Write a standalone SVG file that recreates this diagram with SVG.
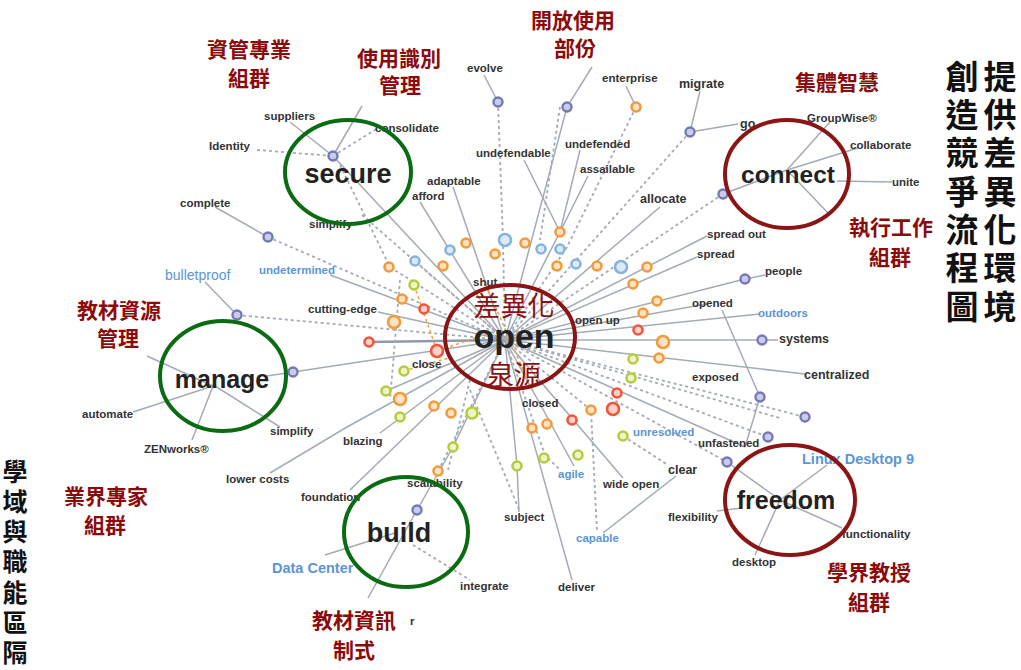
<svg xmlns="http://www.w3.org/2000/svg" width="1021" height="670" viewBox="0 0 1021 670">
<style>
.l{stroke:#a3abb7;stroke-width:1.5;fill:none}
.lt{stroke:#8f99a8;stroke-width:2.6;fill:none}
.d{stroke:#a3abb7;stroke-width:1.8;fill:none;stroke-dasharray:3 3}
.od{stroke:#f3a43c;stroke-width:1.6;fill:none;stroke-dasharray:3 3}
.o{fill:#fde2c4;stroke:#f39a3c;stroke-width:2.6}
.b{fill:#dce9f7;stroke:#86b3e0;stroke-width:2.6}
.g{fill:#eef3c8;stroke:#b5cc3c;stroke-width:2.6}
.r{fill:#fcd2c8;stroke:#f0553c;stroke-width:2.6}
.p{fill:#c9cbe8;stroke:#7479b5;stroke-width:2.4}
.w{font-family:"Liberation Sans",Arial,sans-serif;font-size:11.5px;fill:#333;font-weight:bold}
.wb{font-family:"Liberation Sans",Arial,sans-serif;font-size:11.5px;fill:#5b95d3;font-weight:bold}
.big{font-family:"Liberation Sans",Arial,sans-serif;font-size:26px;fill:#222;font-weight:bold;text-anchor:middle}
.blu{font-family:"Liberation Sans",Arial,sans-serif;font-size:14.5px;fill:#5b95d3;font-weight:bold}
.cn{font-family:"Noto Sans CJK TC","Noto Sans CJK SC",serif;font-size:21px;fill:#8b0a0a;font-weight:bold;text-anchor:middle}
.bk{font-family:"Noto Sans CJK TC","Noto Sans CJK SC",sans-serif;font-weight:bold;fill:#111;text-anchor:middle}
.gc{fill:none;stroke:#0b6b12;stroke-width:4}
.rc{fill:none;stroke:#8b1414;stroke-width:4}
</style>
<rect width="1021" height="670" fill="#fff"/>
<g id="connectors">
<path class="l" d="M505,340 L567,107 L592,67"/>
<path class="l" d="M505,340 L560,232 L580,150"/>
<path class="l" d="M560,232 L588,176"/>
<path class="l" d="M560,232 L524,160"/>
<path class="l" d="M505,340 L453,187"/>
<path class="l" d="M505,340 L420,202"/>
<path class="l" d="M505,340 L660,207"/>
<path class="l" d="M484,75 L498,102"/>
<path class="d" d="M498,102 L503,240 L505,340"/>
<path class="l" d="M626,86 L636,107"/>
<path class="d" d="M636,107 L567,247 L505,340"/>
<path class="l" d="M700,91 L690,132 L738,124"/>
<path class="d" d="M690,132 L505,340"/>
<path class="d" d="M560,107 L540,240"/>
<path class="d" d="M723,194 L505,340"/>
<path class="l" d="M723,194 L787,170"/>
<path class="l" d="M787,170 L830,122"/>
<path class="l" d="M787,170 L858,148"/>
<path class="l" d="M837,181 L892,182"/>
<path class="l" d="M787,170 L828,213"/>
<path class="l" d="M505,340 L707,236"/>
<path class="l" d="M505,340 L697,257"/>
<path class="l" d="M505,340 L745,279 L765,275"/>
<path class="l" d="M505,340 L712,303"/>
<path class="l" d="M505,340 L760,314"/>
<path class="l" d="M505,340 L762,340 L778,340"/>
<path class="l" d="M505,340 L805,374"/>
<path class="l" d="M505,340 L745,447"/>
<path class="l" d="M722,310 L760,397 L745,447"/>
<path class="d" d="M505,340 L805,417"/>
<path class="d" d="M505,340 L780,418"/>
<path class="d" d="M505,340 L768,437"/>
<path class="d" d="M505,340 L727,462"/>
<path class="l" d="M727,462 L780,500"/>
<path class="l" d="M780,500 L827,465"/>
<path class="l" d="M780,500 L842,528"/>
<path class="l" d="M780,500 L755,555"/>
<path class="l" d="M717,511 L742,508"/>
<path class="l" d="M505,340 L623,478"/>
<path class="d" d="M623,436 L668,465"/>
<path class="l" d="M603,533 L676,476"/>
<path class="d" d="M505,340 L591,410 L597,532"/>
<path class="l" d="M505,340 L572,580"/>
<path class="l" d="M505,340 L574,466"/>
<path class="d" d="M505,340 L545,455 L560,470"/>
<path class="l" d="M505,340 L517,466 L519,512"/>
<path class="d" d="M470,390 L520,512"/>
<path class="l" d="M505,340 L453,447 L417,510 L368,598"/>
<path class="d" d="M505,340 L438,471"/>
<path class="d" d="M470,380 L448,470"/>
<path class="d" d="M413,545 L470,580"/>
<path class="l" d="M325,555 L398,532"/>
<path class="l" d="M505,340 L347,427 L270,473"/>
<path class="l" d="M505,340 L350,490"/>
<path class="l" d="M505,340 L380,433"/>
<path class="l" d="M505,340 L386,391"/>
<path class="l" d="M505,340 L293,372 L267,376"/>
<path class="l" d="M147,356 L213,386"/>
<path class="l" d="M133,412 L213,386"/>
<path class="l" d="M192,440 L213,386"/>
<path class="l" d="M280,427 L215,386"/>
<path class="l" d="M215,207 L268,237"/>
<path class="d" d="M268,237 L505,340"/>
<path class="l" d="M205,282 L237,315"/>
<path class="d" d="M237,315 L505,340"/>
<path class="l" d="M330,275 L505,340"/>
<path class="l" d="M378,312 L505,340"/>
<path class="lt" d="M369,342 L505,340"/>
<path class="l" d="M290,122 L333,156"/>
<path class="l" d="M333,156 L362,106"/>
<path class="d" d="M257,150 L333,156"/>
<path class="d" d="M333,156 L378,128"/>
<path class="l" d="M333,156 L505,340"/>
<path class="d" d="M340,165 L390,267 L505,340"/>
<path class="d" d="M362,215 L505,340"/>
<path class="d" d="M415,261 L505,340"/>
<path class="d" d="M400,280 L390,400"/>
<path class="od" d="M414,285 L437,351 L492,332"/>
<path class="od" d="M404,371 L452,357"/>
<path class="od" d="M488,290 L532,390"/>
</g>
<g id="dots">
<circle class="o" cx="466" cy="243" r="4.5"/><circle class="o" cx="495" cy="254" r="4.5"/>
<circle class="o" cx="525" cy="243" r="4.5"/><circle class="o" cx="560" cy="232" r="4.5"/>
<circle class="o" cx="557" cy="266" r="4.5"/><circle class="o" cx="597" cy="266" r="4.5"/>
<circle class="o" cx="647" cy="267" r="4.5"/><circle class="o" cx="633" cy="284" r="4.5"/>
<circle class="o" cx="657" cy="301" r="4.5"/><circle class="o" cx="643" cy="313" r="4.5"/>
<circle class="o" cx="663" cy="342" r="6"/><circle class="o" cx="659" cy="358" r="4.5"/>
<circle class="o" cx="591" cy="410" r="4.5"/><circle class="o" cx="547" cy="424" r="4.5"/>
<circle class="o" cx="532" cy="428" r="4.5"/><circle class="o" cx="451" cy="413" r="4.5"/>
<circle class="o" cx="434" cy="406" r="4.5"/><circle class="o" cx="400" cy="399" r="6"/>
<circle class="o" cx="402" cy="299" r="4.5"/><circle class="o" cx="394" cy="322" r="6"/>
<circle class="o" cx="389" cy="267" r="4.5"/><circle class="o" cx="443" cy="266" r="4.5"/>
<circle class="o" cx="438" cy="471" r="4.5"/><circle class="o" cx="636" cy="107" r="4.5"/>
<circle class="b" cx="505" cy="240" r="6"/><circle class="b" cx="450" cy="250" r="4.5"/>
<circle class="b" cx="541" cy="249" r="4.5"/><circle class="b" cx="560" cy="249" r="4.5"/>
<circle class="b" cx="576" cy="264" r="4.5"/><circle class="b" cx="621" cy="267" r="6"/>
<circle class="b" cx="415" cy="261" r="4.5"/>
<circle class="g" cx="414" cy="285" r="4.5"/><circle class="g" cx="404" cy="371" r="4.5"/>
<circle class="g" cx="386" cy="391" r="4.5"/><circle class="g" cx="400" cy="417" r="4.5"/>
<circle class="g" cx="472" cy="413" r="5.5"/><circle class="g" cx="453" cy="447" r="4.5"/>
<circle class="g" cx="517" cy="466" r="4.5"/><circle class="g" cx="544" cy="458" r="4.5"/>
<circle class="g" cx="578" cy="455" r="4.5"/><circle class="g" cx="623" cy="436" r="4.5"/>
<circle class="g" cx="633" cy="359" r="4.5"/><circle class="g" cx="631" cy="378" r="4.5"/>
<circle class="r" cx="424" cy="309" r="4.5"/><circle class="r" cx="369" cy="342" r="4.5"/>
<circle class="r" cx="437" cy="351" r="6"/><circle class="r" cx="638" cy="330" r="4.5"/>
<circle class="r" cx="617" cy="393" r="4.5"/><circle class="r" cx="613" cy="409" r="6"/>
<circle class="r" cx="572" cy="420" r="4.5"/>
<circle class="p" cx="498" cy="102" r="4.5"/><circle class="p" cx="567" cy="107" r="4.5"/>
<circle class="p" cx="690" cy="132" r="4.5"/><circle class="p" cx="723" cy="194" r="4.5"/>
<circle class="p" cx="333" cy="156" r="4.5"/><circle class="p" cx="268" cy="237" r="4.5"/>
<circle class="p" cx="237" cy="315" r="4.5"/><circle class="p" cx="293" cy="372" r="4.5"/>
<circle class="p" cx="745" cy="279" r="4.5"/><circle class="p" cx="762" cy="340" r="4.5"/>
<circle class="p" cx="760" cy="397" r="4.5"/><circle class="p" cx="805" cy="417" r="4.5"/>
<circle class="p" cx="768" cy="437" r="4.5"/><circle class="p" cx="727" cy="462" r="4.5"/>
<circle class="p" cx="417" cy="510" r="4.5"/>
</g>
<g id="words">
<text class="w" x="264" y="120">suppliers</text>
<text class="w" x="209" y="150">Identity</text>
<text class="w" x="180" y="207">complete</text>
<text class="w" x="309" y="228">simplify</text>
<text class="w" x="467" y="72">evolve</text>
<text class="w" x="602" y="82">enterprise</text>
<text class="w" x="375" y="132">consolidate</text>
<text class="w" x="476" y="157">undefendable</text>
<text class="w" x="565" y="148">undefended</text>
<text class="w" x="580" y="173">assailable</text>
<text class="w" x="427" y="185">adaptable</text>
<text class="w" x="412" y="200">afford</text>
<text class="w" x="640" y="203" style="font-size:12.5px">allocate</text>
<text class="w" x="679" y="88" style="font-size:12.5px">migrate</text>
<text class="w" x="740" y="128" style="font-size:12.5px">go</text>
<text class="w" x="807" y="122">GroupWise®</text>
<text class="w" x="850" y="149">collaborate</text>
<text class="w" x="892" y="186">unite</text>
<text class="w" x="707" y="238">spread out</text>
<text class="w" x="697" y="258">spread</text>
<text class="w" x="765" y="275">people</text>
<text class="w" x="692" y="307">opened</text>
<text class="wb" x="758" y="317">outdoors</text>
<text class="w" x="779" y="343" style="font-size:12.5px">systems</text>
<text class="w" x="804" y="379" style="font-size:12.5px">centralized</text>
<text class="w" x="692" y="381">exposed</text>
<text class="wb" x="633" y="436">unresolved</text>
<text class="w" x="698" y="447">unfastened</text>
<text class="blu" x="802" y="464">Linux Desktop 9</text>
<text class="w" x="668" y="474" style="font-size:12.5px">clear</text>
<text class="w" x="668" y="521">flexibility</text>
<text class="w" x="842" y="538">functionality</text>
<text class="w" x="732" y="566">desktop</text>
<text class="w" x="603" y="488">wide open</text>
<text class="wb" x="558" y="478">agile</text>
<text class="w" x="504" y="521">subject</text>
<text class="wb" x="576" y="542">capable</text>
<text class="w" x="460" y="590">integrate</text>
<text class="w" x="558" y="591">deliver</text>
<text class="w" x="407" y="487">scalability</text>
<text class="w" x="410" y="625">r</text>
<text class="w" x="343" y="445">blazing</text>
<text class="w" x="301" y="501">foundation</text>
<text class="w" x="226" y="483">lower costs</text>
<text class="blu" x="272" y="573">Data Center</text>
<text class="w" x="144" y="453">ZENworks®</text>
<text class="w" x="82" y="418">automate</text>
<text class="w" x="270" y="435">simplify</text>
<text class="wb" x="165" y="280" style="font-size:14px;font-weight:normal">bulletproof</text>
<text class="wb" x="259" y="274">undetermined</text>
<text class="w" x="308" y="313">cutting-edge</text>
<text class="w" x="473" y="286">shut</text>
<text class="w" x="575" y="324">open up</text>
<text class="w" x="412" y="368">close</text>
<text class="w" x="522" y="407">closed</text>
</g>
<g id="node-open">
<ellipse class="rc" cx="510" cy="337" rx="65" ry="52"/>
<text class="cn" x="514" y="316" style="font-size:27px;font-weight:normal;fill:#8b1010">差異化</text>
<text class="big" x="514" y="348" style="font-size:34px">open</text>
<text class="cn" x="514" y="385" style="font-size:27px;font-weight:normal;fill:#8b1010">泉源</text>
</g>
<g id="node-secure">
<ellipse class="gc" cx="348" cy="172" rx="63" ry="52"/>
<text class="big" x="348" y="183" style="font-size:27px">secure</text>
</g>
<g id="node-manage">
<ellipse class="gc" cx="223" cy="376" rx="63" ry="55"/>
<text class="big" x="222" y="388" style="font-size:25px">manage</text>
</g>
<g id="node-build">
<ellipse class="gc" cx="406" cy="532" rx="62" ry="55"/>
<text class="big" x="399" y="542" style="font-size:27px">build</text>
</g>
<g id="node-connect">
<ellipse class="rc" cx="787" cy="174" rx="62" ry="54"/>
<text class="big" x="788" y="183" style="font-size:24.5px">connect</text>
</g>
<g id="node-freedom">
<ellipse class="rc" cx="790" cy="500" rx="65" ry="55"/>
<text class="big" x="786" y="509" style="font-size:25px">freedom</text>
</g>
<g id="labels">
<text class="cn" x="249" y="57">資管專業</text>
<text class="cn" x="249" y="86">組群</text>
<text class="cn" x="399" y="66">使用識別</text>
<text class="cn" x="400" y="93">管理</text>
<text class="cn" x="573" y="28">開放使用</text>
<text class="cn" x="575" y="56">部份</text>
<text class="cn" x="837" y="90">集體智慧</text>
<text class="cn" x="891" y="235">執行工作</text>
<text class="cn" x="890" y="265">組群</text>
<text class="cn" x="119" y="318">教材資源</text>
<text class="cn" x="118" y="346">管理</text>
<text class="cn" x="106" y="504">業界專家</text>
<text class="cn" x="105" y="533">組群</text>
<text class="cn" x="354" y="628">教材資訊</text>
<text class="cn" x="354" y="658">制式</text>
<text class="cn" x="869" y="580">學界教授</text>
<text class="cn" x="869" y="610">組群</text>
</g>
<g id="title-right">
<text class="bk" style="font-size:33px"><tspan x="962" y="89">創</tspan><tspan x="962" y="127">造</tspan><tspan x="962" y="165">競</tspan><tspan x="962" y="204">爭</tspan><tspan x="962" y="242">流</tspan><tspan x="962" y="280">程</tspan><tspan x="962" y="319">圖</tspan></text>
<text class="bk" style="font-size:33px"><tspan x="1000" y="89">提</tspan><tspan x="1000" y="127">供</tspan><tspan x="1000" y="165">差</tspan><tspan x="1000" y="204">異</tspan><tspan x="1000" y="242">化</tspan><tspan x="1000" y="280">環</tspan><tspan x="1000" y="319">境</tspan></text>
</g>
<g id="title-left">
<text class="bk" style="font-size:25px"><tspan x="15" y="481">學</tspan><tspan x="15" y="511">域</tspan><tspan x="15" y="541">與</tspan><tspan x="15" y="571">職</tspan><tspan x="15" y="602">能</tspan><tspan x="15" y="632">區</tspan><tspan x="15" y="662">隔</tspan></text>
</g>
</svg>
